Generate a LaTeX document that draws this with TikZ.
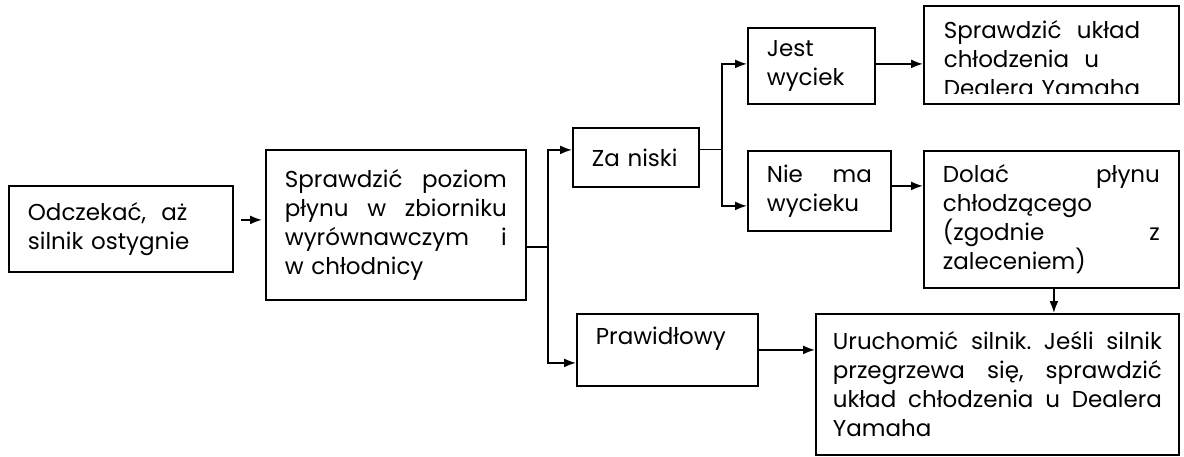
\documentclass[tikz,border=0pt]{standalone}
\usepackage{fontspec}
\setmainfont{Poppins}
\usetikzlibrary{arrows.meta}

\begin{document}
\begin{tikzpicture}[
    x=0.5pt, y=-0.5pt,
    font=\fontsize{11.5}{14.5}\selectfont,
    box/.style={draw, line width=0.9pt, anchor=north west, align=left, inner xsep=9.5pt, inner ysep=0pt},
    link/.style={line width=0.9pt},
    edge/.style={-{Latex[length=6pt, width=4.5pt]}, line width=0.9pt}
]
\useasboundingbox (0,0) rectangle (1184,456);

\node[box, text width=93pt, minimum height=43pt] (wait) at (8,185) {Odczekać,\ \ aż\\silnik ostygnie};
\node[box, text width=111pt, minimum height=75pt] (level) at (265,149) {Sprawdzić\hfill poziom\\płynu\hfill w\hfill zbiorniku\\wyrównawczym\hfill i\\w chłodnicy};
\node[box, text width=44pt, minimum height=29.5pt] (low) at (572,127) {Za niski};
\node[box, text width=44.5pt, minimum height=38pt] (leak) at (747,27) {Jest\\wyciek};
\node[box, text width=108.5pt, minimum height=49pt, path picture={
    \clip ([yshift=5pt]path picture bounding box.south west) rectangle (path picture bounding box.north east);
    \node[draw=none, anchor=north west, inner sep=0pt, text width=108.5pt, align=left]
        at ([shift={(9.5pt,-1.5pt)}]path picture bounding box.north west) {Sprawdzić\ \ układ\\chłodzenia\ \ u\\Dealera Yamaha};
}] (dealer) at (923,5) {};
\node[box, text width=52.5pt, minimum height=40pt] (noleak) at (747,150) {Nie\hfill ma\\wycieku};
\node[box, text width=108.5pt, minimum height=68.5pt] (refill) at (923,150) {Dolać\hfill płynu\\chłodzącego\\(zgodnie\hfill z\\zaleceniem)};
\node[box, text width=71.5pt, minimum height=36pt] (ok) at (576,313) {Prawidłowy\\\mbox{}};
\node[box, text width=164.5pt, inner xsep=8.5pt, minimum height=70.5pt] (restart) at (815,313) {Uruchomić\hfill silnik.\hfill Jeśli\hfill silnik\\przegrzewa\hfill się,\hfill sprawdzić\\układ\hfill chłodzenia\hfill u\hfill Dealera\\Yamaha};

\coordinate (fork) at (548,247);
\coordinate (split) at (722,149);

\draw[edge, shorten <=3.5pt, shorten >=1.5pt] ([yshift=4.5pt]wait.east) -- ([yshift=4.5pt]wait.east -| level.west);
\draw[link] (level.east |- fork) -- (fork);
\draw[edge] (fork) |- ([yshift=3.75pt]low.west);
\draw[edge] (fork) |- ([yshift=-6.5pt]ok.west);
\draw[thin] (low.east |- split) -- (split);
\draw[edge] (split) |- ([yshift=1pt]leak.west);
\draw[edge] (split) |- ([yshift=-7.5pt]noleak.west);
\draw[edge] ([yshift=1pt]leak.east) -- ([yshift=1pt]leak.east -| dealer.west);
\draw[edge] ([yshift=2.5pt]noleak.east) -- ([yshift=2.5pt]noleak.east -| refill.west);
\draw[edge] ([xshift=1.25pt]refill.south) -- ([xshift=1.25pt]refill.south |- restart.north);
\draw[edge] (ok.east) -- (ok.east -| restart.west);
\end{tikzpicture}
\end{document}
